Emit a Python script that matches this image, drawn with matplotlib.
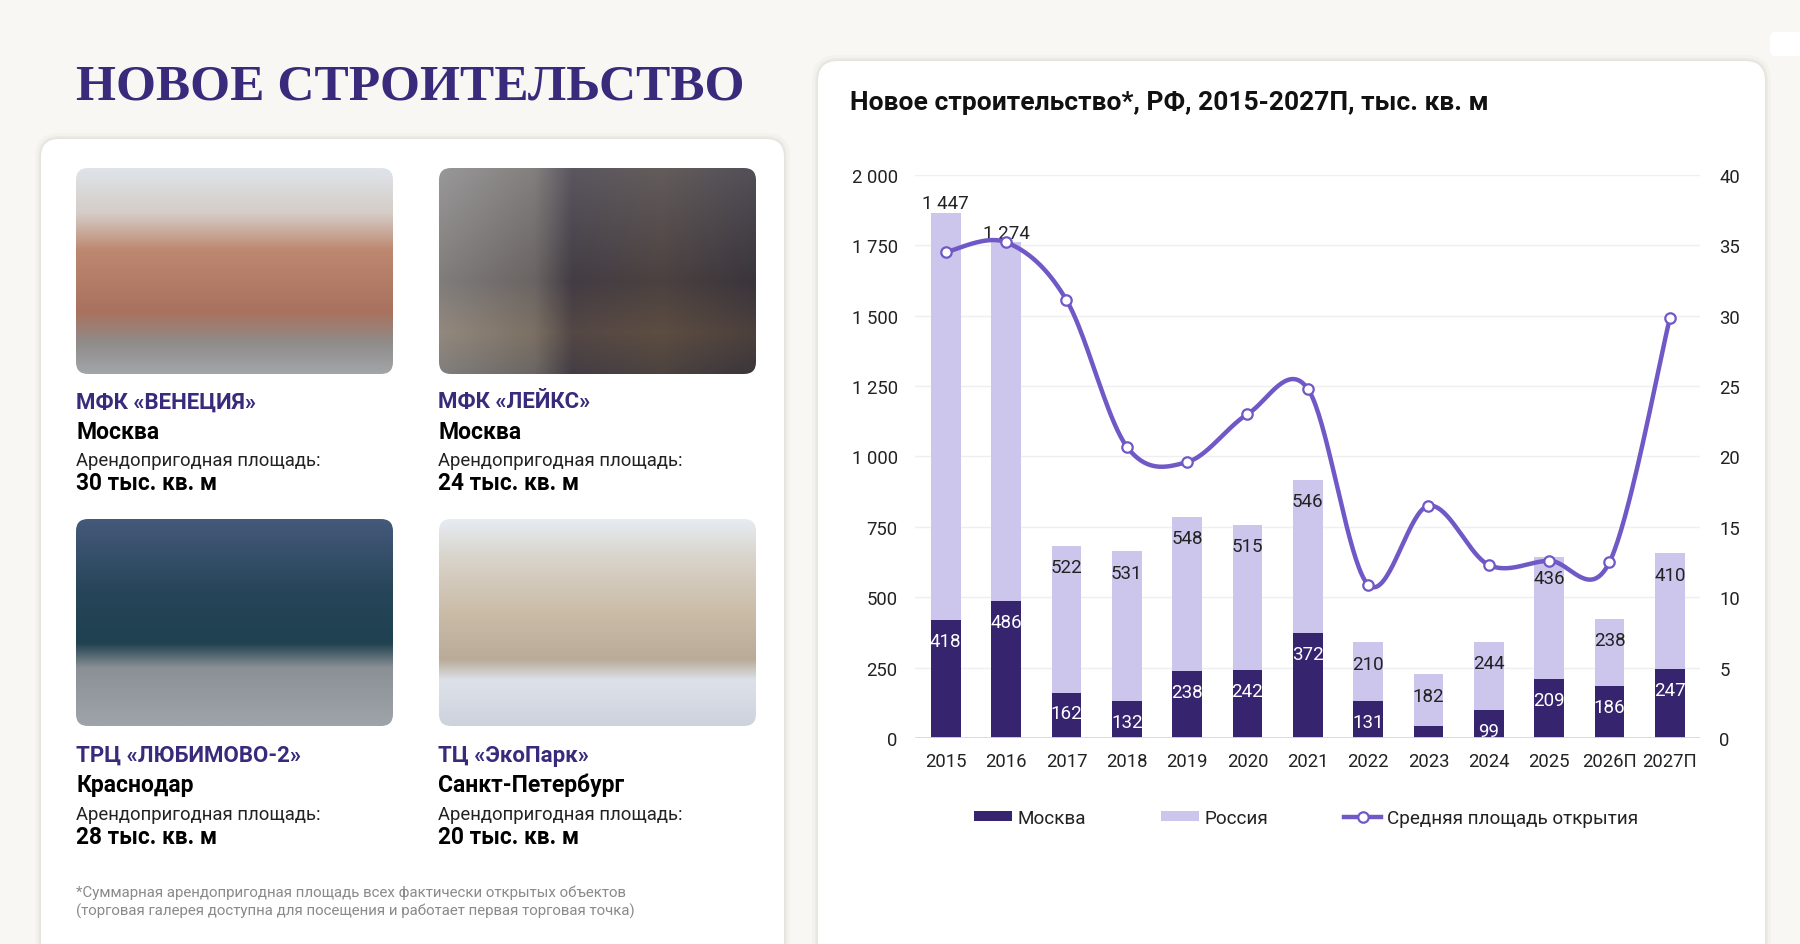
import numpy as np
import matplotlib
matplotlib.use("Agg")
import matplotlib.pyplot as plt
from matplotlib.patches import FancyBboxPatch, Patch
from matplotlib.lines import Line2D
from matplotlib.colors import to_rgb

# ---------------- data ----------------
years = ['2015', '2016', '2017', '2018', '2019', '2020', '2021',
         '2022', '2023', '2024', '2025', '2026П', '2027П']
moscow = [418, 486, 162, 132, 238, 242, 372, 131, 45, 99, 209, 186, 247]
russia = [1447, 1274, 522, 531, 548, 515, 546, 210, 182, 244, 436, 238, 410]
avg_area = [34.5, 35.2, 31.1, 20.7, 19.6, 23.0, 24.8, 10.9, 16.5, 12.3, 12.6, 12.5, 29.8]

left_ticks = [0, 250, 500, 750, 1000, 1250, 1500, 1750, 2000]
left_tick_labels = ['0', '250', '500', '750', '1 000', '1 250', '1 500', '1 750', '2 000']
right_ticks = [0, 5, 10, 15, 20, 25, 30, 35, 40]
right_tick_labels = ['0', '5', '10', '15', '20', '25', '30', '35', '40']

series_names = ['Москва', 'Россия', 'Средняя площадь открытия']

obj_names = ['МФК «ВЕНЕЦИЯ»', 'МФК «ЛЕЙКС»', 'ТРЦ «ЛЮБИМОВО-2»', 'ТЦ «ЭкоПарк»']
obj_cities = ['Москва', 'Москва', 'Краснодар', 'Санкт-Петербург']
obj_area_caption = 'Арендопригодная площадь:'
obj_areas = ['30 тыс. кв. м', '24 тыс. кв. м', '28 тыс. кв. м', '20 тыс. кв. м']

page_title = 'НОВОЕ СТРОИТЕЛЬСТВО'
chart_title = 'Новое строительство*, РФ, 2015-2027П, тыс. кв. м'
footnote = ['*Суммарная арендопригодная площадь всех фактически открытых объектов',
            '(торговая галерея доступна для посещения и работает первая торговая точка)']

# ---------------- style ----------------
plt.rcParams['font.family'] = ['Roboto', 'DejaVu Sans']
C_BG = '#f8f7f3'
C_MSK = '#36246f'
C_RUS = '#cdc6ec'
C_LINE = '#7058c6'
C_PURPLE = '#3a2a7c'

W, H = 1800, 945
fig = plt.figure(figsize=(W / 100, H / 100), dpi=100)
fig.patch.set_facecolor(C_BG)

# background / layout axes in pixel coordinates
bg = fig.add_axes([0, 0, 1, 1])
bg.set_xlim(0, W)
bg.set_ylim(H, 0)
bg.axis('off')
bg.set_zorder(0)


def card(x0, y0, x1, y1, r, shadow=True):
    if shadow:
        for d, a in [(6, 0.05), (3, 0.07), (1.5, 0.08)]:
            bg.add_patch(FancyBboxPatch((x0 - d, y0 - d), x1 - x0 + 2 * d, y1 - y0 + 2 * d,
                                        boxstyle=f"round,pad=0,rounding_size={r + d}",
                                        fc='#9a968c', ec='none', alpha=a, zorder=1))
    bg.add_patch(FancyBboxPatch((x0, y0), x1 - x0, y1 - y0,
                                boxstyle=f"round,pad=0,rounding_size={r}",
                                fc='white', ec='none', zorder=2))


card(41, 140, 784, 980, 18)
card(818, 62, 1765, 980, 20)
# small white mark at top right corner
bg.add_patch(FancyBboxPatch((1770, 33), 40, 24, boxstyle="round,pad=0,rounding_size=5",
                            fc='white', ec='none', zorder=2))


def ramp(stops, n=200):
    pos = np.array([s[0] for s in stops])
    cols = np.array([to_rgb(s[1]) for s in stops])
    t = np.linspace(0, 1, n)
    return np.stack([np.interp(t, pos, cols[:, k]) for k in range(3)], axis=1)


def vgrad(stops):
    return np.repeat(ramp(stops)[:, None, :], 2, axis=1)


def photo(x0, y0, x1, y1, img, r=12):
    clip = FancyBboxPatch((x0, y0), x1 - x0, y1 - y0,
                          boxstyle=f"round,pad=0,rounding_size={r}",
                          fc='none', ec='none', transform=bg.transData)
    bg.add_patch(clip)
    im = bg.imshow(img, extent=(x0, x1, y1, y0), aspect='auto',
                   interpolation='bilinear', zorder=3)
    im.set_clip_path(clip)


img1 = vgrad([(0, '#dfe4ea'), (0.22, '#d4ccc6'), (0.4, '#bd8770'),
              (0.7, '#a9725e'), (0.85, '#8f8c8a'), (1, '#a3a5a8')])
h2 = ramp([(0, '#a3a19f'), (0.3, '#7d7874'), (0.42, '#3b3541'),
           (0.7, '#4a3e3a'), (1, '#2d2833')])[None, :, :]
v2 = ramp([(0, '#8a8a8e'), (0.55, '#4d4648'), (0.8, '#7a644c'), (1, '#4f4a48')])[:, None, :]
img2 = np.clip(0.6 * h2 + 0.4 * v2, 0, 1)
img3 = vgrad([(0, '#45597a'), (0.35, '#264559'), (0.6, '#1f4150'),
              (0.72, '#8a9095'), (1, '#9ea4a9')])
img4 = vgrad([(0, '#e6ecf3'), (0.18, '#d9d4cb'), (0.45, '#cbbca8'),
              (0.68, '#b9ab98'), (0.78, '#dde2ea'), (1, '#cdd2dd')])

photo(76, 169, 393, 375, img1)
photo(439, 169, 756, 375, img2)
photo(76, 520, 393, 727, img3)
photo(439, 520, 756, 727, img4)

# page title
bg.text(76, 100, page_title, family=['Liberation Serif', 'DejaVu Serif'],
        fontweight='bold', fontsize=37, color=C_PURPLE, va='baseline', zorder=5)

# object captions
col_x = [76, 438, 76, 438]
row_off = [0, 0, 353.6, 353.6]
for i in range(4):
    xx = col_x[i]
    dy = row_off[i]
    bg.text(xx, 408.3 + dy, obj_names[i], fontsize=16, fontweight='bold',
            color=C_PURPLE, va='baseline', zorder=5)
    bg.text(xx, 438.8 + dy, obj_cities[i], fontsize=16.5, fontweight='bold',
            color='black', va='baseline', zorder=5)
    bg.text(xx, 466.5 + dy, obj_area_caption, fontsize=13.3, color='#222222',
            va='baseline', zorder=5)
    bg.text(xx, 490.5 + dy, obj_areas[i], fontsize=16.3, fontweight='bold',
            color='black', va='baseline', zorder=5)

bg.text(76, 896.5, footnote[0], fontsize=10.8, color='#8a8a8a', va='baseline', zorder=5)
bg.text(76, 915.5, footnote[1], fontsize=10.8, color='#8a8a8a', va='baseline', zorder=5)

# chart title
bg.text(850, 110, chart_title, fontsize=19, fontweight='bold', color='#111111',
        va='baseline', zorder=5)

# ---------------- chart ----------------
ax_l, ax_r, ax_top, ax_bot = 915, 1700, 175.6, 739.3
ax = fig.add_axes([ax_l / W, 1 - ax_bot / H, (ax_r - ax_l) / W, (ax_bot - ax_top) / H])
ax.set_zorder(2)
ax.patch.set_visible(False)

x = np.arange(len(years))
bw = 0.49
ax.bar(x, moscow, width=bw, color=C_MSK, zorder=3)
ax.bar(x, russia, bottom=moscow, width=bw, color=C_RUS, zorder=3)

ax.set_xlim(-0.51, 12.5)
ax.set_ylim(0, 2000)
ax.set_yticks(left_ticks, left_tick_labels)
ax.set_xticks(x, years)
for s in ax.spines.values():
    s.set_visible(False)
ax.tick_params(length=0, labelsize=13.3, labelcolor='#222222')
ax.tick_params(axis='y', pad=12.5)
ax.tick_params(axis='x', pad=10)
ax.grid(axis='y', color='#efefef', lw=1, zorder=0)
ax.set_axisbelow(True)
ax.axhline(0, color='#d9d9d9', lw=2, zorder=4)


def fmt(v):
    return f"{v:,}".replace(',', ' ')


for xi, m, r in zip(x, moscow, russia):
    if m >= 60:
        ax.annotate(fmt(m), (xi, m), xytext=(0, -15), textcoords='offset points',
                    ha='center', va='center', fontsize=13.5, color='white', zorder=6)
    top = m + r
    if top > 1500:
        ax.annotate(fmt(r), (xi, top), xytext=(0, 0.5), textcoords='offset points',
                    ha='center', va='bottom', fontsize=13.5, color='#222222', zorder=6)
    else:
        ax.annotate(fmt(r), (xi, top), xytext=(0, -15.5), textcoords='offset points',
                    ha='center', va='center', fontsize=13.5, color='#222222', zorder=6)

ax2 = ax.twinx()
ax2.set_ylim(0, 40)
ax2.set_yticks(right_ticks, right_tick_labels)
for s in ax2.spines.values():
    s.set_visible(False)
ax2.tick_params(length=0, labelsize=13.3, labelcolor='#222222', pad=14)


def smooth(xs, ys, n=40):
    P = np.column_stack([np.asarray(xs, float), np.asarray(ys, float)])
    Pe = np.vstack([P[0], P, P[-1]])
    out = []
    t = np.linspace(0, 1, n)[:, None]
    for i in range(len(P) - 1):
        p0, p1, p2, p3 = Pe[i], Pe[i + 1], Pe[i + 2], Pe[i + 3]
        c1 = p1 + (p2 - p0) / 6
        c2 = p2 - (p3 - p1) / 6
        seg = (1 - t) ** 3 * p1 + 3 * (1 - t) ** 2 * t * c1 + 3 * (1 - t) * t ** 2 * c2 + t ** 3 * p2
        out.append(seg if i == 0 else seg[1:])
    return np.vstack(out)


curve = smooth(x, avg_area)
ax2.plot(curve[:, 0], curve[:, 1], color=C_LINE, lw=3.2, solid_capstyle='round', zorder=5)
ax2.plot(x, avg_area, ls='none', marker='o', ms=7.5, mfc='white', mec=C_LINE, mew=1.6, zorder=6)

handles = [Patch(fc=C_MSK, ec='none'), Patch(fc=C_RUS, ec='none'),
           Line2D([], [], color=C_LINE, lw=3.2, marker='o', ms=7.5, mfc='white',
                  mec=C_LINE, mew=1.6)]
fig.legend(handles, series_names, loc='center', bbox_to_anchor=(1306 / W, 1 - 818.6 / H),
           ncol=3, frameon=False, fontsize=13.6, handlelength=2.0, handleheight=0.5,
           handletextpad=0.28, columnspacing=4.0, labelcolor='#222222')

fig.savefig('out.png', dpi=100, facecolor=C_BG)
